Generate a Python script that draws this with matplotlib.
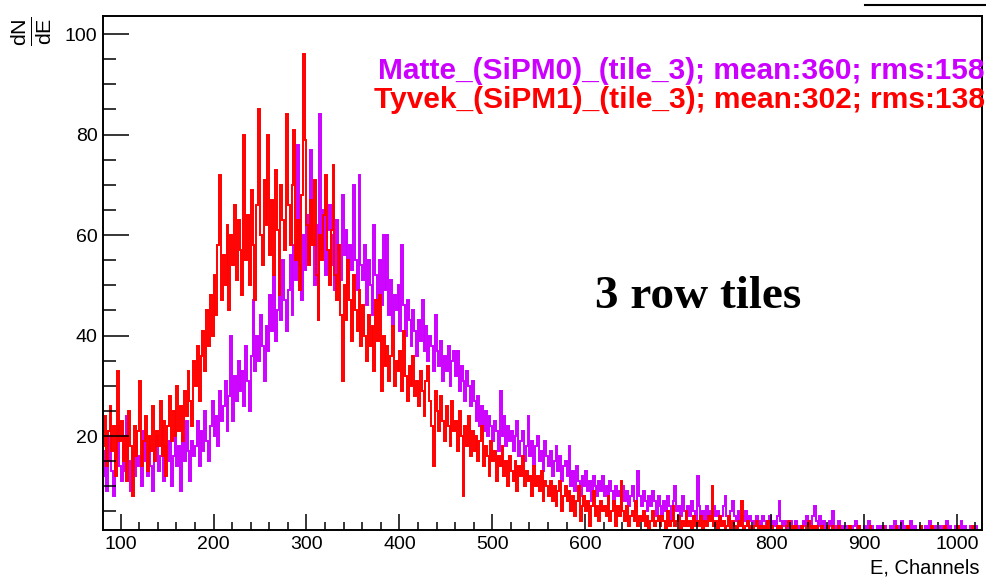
import numpy as np
import matplotlib
matplotlib.use("Agg")
import matplotlib.pyplot as plt
from matplotlib.ticker import MultipleLocator
from matplotlib.lines import Line2D

plt.rcParams['font.family'] = ['Liberation Sans', 'DejaVu Sans']
plt.rcParams['mathtext.fontset'] = 'custom'
plt.rcParams['mathtext.rm'] = 'Liberation Sans'
plt.rcParams['mathtext.default'] = 'regular'

# bin edges: 2-channel bins from 80 to 1028
bin_start, bin_stop, bin_width = 80, 1028, 2

# ---- Matte (SiPM0) counts, per 100-channel segment ----
matte_080 = [12, 17, 9, 15, 20, 13, 8, 16, 22, 14,
             11, 18, 13, 24, 15, 9, 17, 12, 19, 14,
             16, 10, 21, 15, 12, 18, 14, 9, 17, 20,
             13, 16, 22, 11, 18, 15, 19, 10, 16, 21,
             14, 18, 9, 20, 15, 23, 17, 11, 19, 16]
matte_180 = [18, 23, 14, 21, 17, 25, 19, 15, 22, 27,
             20, 24, 18, 29, 23, 26, 31, 21, 28, 40,
             23, 32, 27, 35, 29, 33, 26, 38, 31, 25,
             36, 47, 33, 40, 35, 44, 38, 31, 42, 37,
             48, 41, 52, 39, 45, 50, 43, 55, 47, 41]
matte_280 = [49, 56, 44, 58, 51, 78, 54, 47, 60, 53,
             64, 55, 77, 59, 50, 62, 43, 84, 57, 65,
             52, 61, 66, 54, 60, 49, 63, 57, 51, 68,
             56, 61, 50, 58, 53, 70, 55, 49, 72, 54,
             51, 58, 46, 55, 50, 44, 62, 52, 47, 55]
matte_380 = [46, 60, 49, 60, 44, 51, 42, 48, 45, 50,
             41, 58, 46, 40, 47, 43, 38, 45, 41, 36,
             43, 39, 47, 37, 42, 35, 40, 38, 33, 44,
             37, 34, 39, 31, 36, 33, 38, 30, 35, 37,
             32, 37, 29, 34, 31, 27, 33, 30, 26, 31]
matte_480 = [27, 23, 28, 22, 26, 21, 25, 20, 24, 22,
             19, 23, 21, 17, 29, 20, 24, 18, 22, 19,
             21, 17, 20, 23, 16, 19, 21, 15, 18, 24,
             16, 19, 14, 18, 20, 15, 17, 13, 19, 16,
             14, 17, 12, 15, 18, 13, 16, 11, 14, 15]
matte_580 = [12, 18, 10, 13, 9, 14, 11, 8, 12, 10,
             13, 9, 11, 7, 12, 10, 8, 11, 9, 12,
             8, 10, 7, 11, 9, 6, 10, 8, 9, 7,
             10, 7, 9, 6, 8, 10, 7, 5, 13, 8,
             6, 9, 7, 5, 8, 6, 9, 7, 4, 8]
matte_680 = [6, 4, 7, 5, 8, 6, 3, 7, 10, 5,
             6, 4, 8, 5, 3, 6, 4, 7, 5, 3,
             12, 6, 4, 5, 3, 6, 4, 5, 3, 6,
             4, 5, 3, 4, 6, 8, 4, 3, 5, 7,
             4, 3, 5, 2, 4, 3, 5, 2, 4, 3]
matte_780 = [3, 2, 4, 3, 2, 4, 3, 2, 3, 4,
             2, 3, 2, 4, 7, 3, 2, 3, 2, 1,
             3, 2, 1, 3, 2, 1, 2, 3, 2, 4,
             3, 2, 4, 6, 3, 2, 4, 2, 3, 1,
             2, 3, 2, 5, 2, 1, 3, 2, 1, 2]
matte_880 = [2, 1, 2, 1, 2, 3, 1, 2, 1, 1,
             2, 1, 3, 1, 2, 1, 1, 2, 1, 2,
             1, 2, 1, 1, 2, 1, 3, 1, 2, 1,
             3, 1, 2, 1, 1, 3, 1, 2, 1, 1,
             2, 1, 1, 2, 1, 3, 1, 1, 2, 1]
matte_980 = [1, 2, 1, 1, 3, 1, 2, 1, 1, 2,
             1, 1, 3, 1, 2, 1, 1, 2, 1, 1,
             2, 1, 1, 1]

# ---- Tyvek (SiPM1) counts, per 100-channel segment ----
tyvek_080 = [18, 24, 14, 21, 26, 17, 22, 12, 33, 19,
             23, 15, 20, 11, 25, 18, 8, 22, 16, 21,
             31, 14, 19, 24, 13, 20, 17, 26, 15, 21,
             18, 27, 16, 23, 12, 22, 28, 19, 25, 20,
             30, 21, 26, 19, 29, 24, 33, 27, 22, 35]
tyvek_180 = [30, 38, 27, 36, 41, 33, 45, 38, 48, 40,
             52, 44, 58, 72, 47, 56, 50, 62, 45, 60,
             54, 66, 51, 63, 57, 48, 80, 55, 64, 50,
             69, 58, 47, 66, 85, 60, 54, 71, 62, 80,
             56, 67, 52, 73, 61, 48, 70, 63, 57, 84]
tyvek_280 = [66, 58, 70, 81, 55, 63, 49, 68, 96, 79,
             62, 54, 67, 58, 71, 52, 43, 60, 55, 64,
             72, 57, 50, 61, 74, 52, 47, 58, 44, 31,
             50, 43, 55, 47, 39, 52, 45, 41, 49, 38,
             46, 40, 35, 44, 38, 42, 33, 47, 39, 48]
tyvek_380 = [29, 40, 34, 38, 31, 36, 42, 30, 35, 33,
             37, 29, 41, 32, 27, 34, 30, 36, 28, 31,
             26, 33, 29, 24, 31, 34, 27, 22, 14, 29,
             25, 21, 28, 23, 19, 26, 22, 18, 27, 21,
             23, 17, 25, 20, 8, 22, 18, 24, 16, 21]
tyvek_480 = [17, 20, 15, 19, 22, 14, 18, 16, 12, 19,
             15, 17, 11, 16, 14, 18, 12, 15, 10, 16,
             13, 11, 15, 9, 14, 12, 16, 10, 13, 11,
             12, 8, 14, 10, 12, 9, 13, 7, 11, 10,
             8, 11, 7, 10, 6, 9, 11, 5, 8, 10]
tyvek_580 = [7, 9, 5, 8, 4, 7, 10, 3, 6, 8,
             5, 7, 2, 6, 9, 4, 6, 3, 7, 5,
             6, 4, 8, 3, 5, 7, 2, 6, 4, 11,
             5, 3, 6, 2, 4, 5, 3, 7, 2, 4,
             3, 5, 2, 4, 1, 3, 5, 2, 3, 4]
tyvek_680 = [2, 4, 3, 1, 5, 2, 3, 6, 2, 3,
             4, 1, 3, 2, 5, 2, 3, 1, 4, 2,
             3, 2, 4, 1, 3, 2, 4, 3, 10, 2,
             3, 1, 4, 2, 3, 1, 2, 4, 1, 3,
             2, 1, 3, 2, 7, 1, 2, 3, 1, 2]
tyvek_780 = [1, 2, 3, 1, 2, 1, 2, 1, 3, 1,
             2, 1, 1, 2, 1, 2, 1, 1, 2, 3,
             1, 2, 1, 2, 1, 1, 2, 1, 1, 2,
             3, 1, 2, 1, 2, 1, 1, 2, 1, 1,
             2, 1, 1, 2, 1, 1, 2, 1, 1, 1]
tyvek_880 = [1, 1, 2, 1, 0, 1, 1, 2, 1, 1,
             1, 0, 1, 2, 1, 1, 1, 0, 1, 1,
             2, 1, 1, 0, 1, 1, 1, 2, 1, 0,
             1, 1, 1, 2, 1, 1, 0, 1, 1, 1,
             2, 1, 0, 1, 1, 1, 2, 1, 1, 0]
tyvek_980 = [1, 1, 0, 2, 1, 1, 0, 1, 1, 1,
             2, 1, 0, 1, 1, 1, 0, 1, 2, 1,
             1, 0, 1, 1]

legend_matte = "Matte_(SiPM0)_(tile_3); mean:360; rms:158"
legend_tyvek = "Tyvek_(SiPM1)_(tile_3); mean:302; rms:138"
annotation = "3 row tiles"
x_label = "E, Channels"
y_label = r"$\frac{dN}{dE}$"

matte = np.concatenate([matte_080, matte_180, matte_280, matte_380, matte_480,
                        matte_580, matte_680, matte_780, matte_880, matte_980])
tyvek = np.concatenate([tyvek_080, tyvek_180, tyvek_280, tyvek_380, tyvek_480,
                        tyvek_580, tyvek_680, tyvek_780, tyvek_880, tyvek_980])
edges = np.arange(bin_start, bin_stop + bin_width, bin_width)

W, H = 986, 578
fig = plt.figure(figsize=(W / 100, H / 100), dpi=100)
ax = fig.add_axes([103 / W, 1 - 530 / H, (982 - 103) / W, (530 - 16) / H])

MAG = '#CC00FF'
RED = '#FF0000'
ax.stairs(matte, edges, color=MAG, lw=1.4)
ax.stairs(tyvek, edges, color=RED, lw=1.4)

ax.set_xlim(81, 1027)
ax.set_ylim(1.3, 103.6)
ax.set_axisbelow(False)

ax.xaxis.set_major_locator(MultipleLocator(100))
ax.xaxis.set_minor_locator(MultipleLocator(20))
ax.yaxis.set_major_locator(MultipleLocator(20))
ax.yaxis.set_minor_locator(MultipleLocator(5))

ax.tick_params(axis='x', which='major', direction='in', length=11.5, width=1.1,
               labelsize=14, pad=4)
ax.tick_params(axis='x', which='minor', direction='in', length=5.8, width=1.1)
ax.tick_params(axis='y', which='major', direction='in', length=18.7, width=1.1,
               labelsize=14, pad=4)
ax.tick_params(axis='y', which='minor', direction='in', length=9.4, width=1.1)
for s in ax.spines.values():
    s.set_linewidth(1.4)

fig.text(985 / W, 1 - 79.3 / H, legend_matte, color=MAG, fontsize=21.5,
         fontweight='bold', ha='right', va='baseline')
fig.text(985 / W, 1 - 108.3 / H, legend_tyvek, color=RED, fontsize=21.5,
         fontweight='bold', ha='right', va='baseline')
fig.text(698 / W, 1 - 308 / H, annotation, family='Liberation Serif',
         fontweight='bold', fontsize=34, ha='center', va='baseline', color='black')
fig.text(980 / W, 1 - 573 / H, x_label, fontsize=14.5, ha='right', va='baseline')
fig.text(31 / W, 1 - 31 / H, y_label, fontsize=22, rotation=90,
         ha='center', va='center')

fig.add_artist(Line2D([865 / W, 1.0], [1 - 5 / H, 1 - 5 / H],
                      transform=fig.transFigure, color='black', lw=1.5))

fig.savefig("out.png", dpi=100)
